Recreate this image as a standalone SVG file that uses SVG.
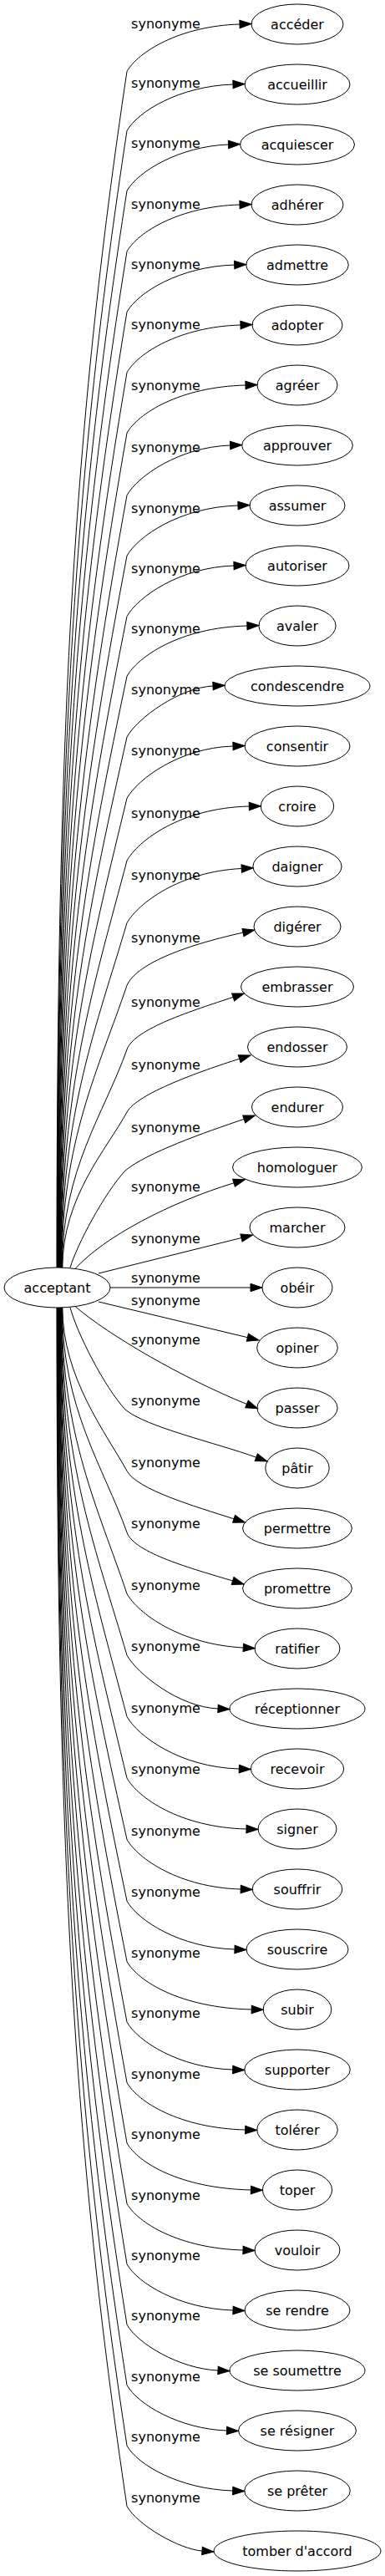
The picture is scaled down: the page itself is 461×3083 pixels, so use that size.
<svg xmlns="http://www.w3.org/2000/svg" width="461" height="3083" viewBox="0 0 461 3083">
<style>
text{font-family:"DejaVu Sans",sans-serif;font-size:16px;fill:#000;text-anchor:middle}
ellipse{fill:none;stroke:#000;stroke-width:1}
#edges path{fill:none;stroke:#000;stroke-width:1;marker-end:url(#ah)}
</style>
<defs>
<marker id="ah" markerUnits="userSpaceOnUse" orient="auto" refX="0" refY="4.7" markerWidth="15" markerHeight="11" viewBox="0 0 15 9.4" overflow="visible">
<path d="M0,0 L14,4.7 L0,9.4 z" fill="#000" stroke="#000" stroke-width="1"/>
</marker>
</defs>
<rect width="461" height="3083" fill="#fff"/>
<g id="edges">
<path d="M68,1517 C68,872.8 87.6,515 152,85.5 C165,62.5 215,31 287,29"/>
<path d="M68.4,1517 C68.4,904.8 89.6,564.7 152,156.5 C165,133.5 215,103 279,101"/>
<path d="M68.8,1517 C68.8,937.1 91.6,614.9 152,228.3 C165,205.3 215,175 273.5,173"/>
<path d="M69.2,1517 C69.2,969.8 93.5,665.7 152,300.9 C165,277.9 215,247 287,245"/>
<path d="M69.6,1517 C69.6,1002.3 95.5,716.4 152,373.3 C165,350.3 215,319 280.7,317"/>
<path d="M70,1517 C70,1035 97.5,767.2 152,445.8 C165,422.8 215,391 288,389"/>
<path d="M70.4,1517 C70.4,1067.5 99.5,817.8 152,518.2 C165,495.2 215,463 294,461"/>
<path d="M70.8,1517 C70.8,1101.1 101.5,870 152,592.7 C165,569.7 215,535 275.6,533"/>
<path d="M71.2,1517 C71.2,1133.6 103.5,920.7 152,665.1 C165,642.1 215,607 285,605"/>
<path d="M71.6,1517 C71.6,1166.3 105.5,971.4 152,737.6 C165,714.6 215,679 280,677"/>
<path d="M72,1517 C72,1198.5 107.5,1021.6 152,809.3 C165,786.3 215,751 295.9,749"/>
<path d="M72.4,1517 C72.4,1231.3 109.5,1072.5 152,882 C165,859 215,823 255,821"/>
<path d="M72.8,1517 C72.8,1264.2 111.5,1123.8 152,955.3 C165,932.3 215,895 279,893"/>
<path d="M73.2,1517 C73.2,1297.9 113.5,1176.1 152,1030 C165,1007 215,967 298.3,965"/>
<path d="M73.6,1517 C73.6,1331.4 115.6,1228.3 152,1104.6 C165,1081.6 215,1043 289.2,1039.5"/>
<path d="M74,1517 C74,1365 117.6,1280.6 152,1179.3 C163,1155 215,1133 291,1116.1"/>
<path d="M74.4,1517 C74.4,1399.5 124.3,1334 152,1256 C161,1231 231.7,1209.2 279.1,1193.4"/>
<path d="M74.8,1517 C74.8,1433 128,1375 152,1331 C164,1309 239,1282.3 286.7,1267.2"/>
<path d="M84,1517.2 C92,1490 125,1428 150,1401 C175,1380 244.7,1355.3 292.2,1339.4"/>
<path d="M90,1518.5 C125,1480 203.5,1439.2 280,1415.8"/>
<path d="M118,1524 L289,1481.5"/>
<path d="M132,1541 L300,1541"/>
<path d="M118,1558 L296.4,1600.7"/>
<path d="M90,1563.5 C130,1598 220,1650 295.5,1680.5"/>
<path d="M84,1564.8 C92,1595 125,1660 150,1687 C175,1708 259.8,1727.1 306.8,1744.2"/>
<path d="M74.8,1565 C74.8,1649 128,1716.5 152,1760.5 C164,1782.5 232.4,1802.7 280.1,1817.8"/>
<path d="M74.4,1565 C74.4,1686 124.3,1756 152,1834.1 C160.7,1858.6 230.7,1877.6 278.6,1892"/>
<path d="M74,1565 C74,1719.1 117.5,1804.7 152,1907.5 C165,1930.5 215,1968 291.3,1972"/>
<path d="M73.6,1565 C73.6,1752.2 115.5,1856.3 152,1981.1 C165,2004.1 215,2043 261,2045"/>
<path d="M73.2,1565 C73.2,1785.3 113.4,1907.6 152,2054.5 C165,2077.5 215,2115 286.3,2117"/>
<path d="M72.8,1565 C72.8,1818.4 111.4,1959.2 152,2128.1 C165,2151.1 215,2187 295,2189"/>
<path d="M72.4,1565 C72.4,1851.4 109.4,2010.5 152,2201.5 C165,2224.5 215,2259 288.2,2261"/>
<path d="M72,1565 C72,1884.6 107.4,2062.1 152,2275.2 C165,2298.2 215,2331 281,2333"/>
<path d="M71.6,1565 C71.6,1917.2 105.4,2112.8 152,2347.6 C165,2370.6 215,2403 301.2,2405"/>
<path d="M71.2,1565 C71.2,1949.8 103.4,2163.6 152,2420.1 C165,2443.1 215,2475 278.7,2477"/>
<path d="M70.8,1565 C70.8,1982.4 101.4,2214.2 152,2492.5 C165,2515.5 215,2547 293.7,2549"/>
<path d="M70.4,1565 C70.4,2015 99.5,2264.9 152,2564.9 C165,2587.9 215,2619 300.4,2621"/>
<path d="M70,1565 C70,2047.6 97.5,2315.7 152,2637.4 C165,2660.4 215,2691 291,2693"/>
<path d="M69.6,1565 C69.6,2080.2 95.5,2366.4 152,2709.8 C165,2732.8 215,2763 279,2765"/>
<path d="M69.2,1565 C69.2,2112.7 93.5,2417 152,2782.2 C165,2805.2 215,2835 261,2837"/>
<path d="M68.8,1565 C68.8,2145.3 91.5,2467.7 152,2854.6 C165,2877.6 215,2907 271.5,2909"/>
<path d="M68.4,1565 C68.4,2177.9 89.5,2518.5 152,2927.1 C165,2950.1 215,2979 278.7,2981"/>
<path d="M68,1565 C68,2210.5 87.6,2569.1 152,2999.5 C165,3022.5 215,3051 242,3053"/>
</g>
<g id="labels">
<text x="198.5" y="34.1">synonyme</text>
<text x="198.5" y="105.1">synonyme</text>
<text x="198.5" y="176.9">synonyme</text>
<text x="198.5" y="249.5">synonyme</text>
<text x="198.5" y="321.9">synonyme</text>
<text x="198.5" y="394.4">synonyme</text>
<text x="198.5" y="466.8">synonyme</text>
<text x="198.5" y="541.3">synonyme</text>
<text x="198.5" y="613.7">synonyme</text>
<text x="198.5" y="686.2">synonyme</text>
<text x="198.5" y="757.9">synonyme</text>
<text x="198.5" y="830.6">synonyme</text>
<text x="198.5" y="903.9">synonyme</text>
<text x="198.5" y="978.6">synonyme</text>
<text x="198.5" y="1053.2">synonyme</text>
<text x="198.5" y="1127.9">synonyme</text>
<text x="198.5" y="1204.6">synonyme</text>
<text x="198.5" y="1279.6">synonyme</text>
<text x="198.5" y="1354.6">synonyme</text>
<text x="198.5" y="1426.3">synonyme</text>
<text x="198.5" y="1487.6">synonyme</text>
<text x="198.5" y="1534.6">synonyme</text>
<text x="198.5" y="1562.3">synonyme</text>
<text x="198.5" y="1608.6">synonyme</text>
<text x="198.5" y="1682.1">synonyme</text>
<text x="198.5" y="1755.6">synonyme</text>
<text x="198.5" y="1829.2">synonyme</text>
<text x="198.5" y="1902.6">synonyme</text>
<text x="198.5" y="1976.2">synonyme</text>
<text x="198.5" y="2049.6">synonyme</text>
<text x="198.5" y="2123.2">synonyme</text>
<text x="198.5" y="2196.6">synonyme</text>
<text x="198.5" y="2270.3">synonyme</text>
<text x="198.5" y="2342.7">synonyme</text>
<text x="198.5" y="2415.2">synonyme</text>
<text x="198.5" y="2487.6">synonyme</text>
<text x="198.5" y="2560">synonyme</text>
<text x="198.5" y="2632.5">synonyme</text>
<text x="198.5" y="2704.9">synonyme</text>
<text x="198.5" y="2777.3">synonyme</text>
<text x="198.5" y="2849.7">synonyme</text>
<text x="198.5" y="2922.2">synonyme</text>
<text x="198.5" y="2994.6">synonyme</text>
</g>
<g id="acceptant"><ellipse cx="68.5" cy="1541" rx="63.5" ry="24"/><text x="68.5" y="1546.5">acceptant</text></g>
<g id="n0"><ellipse cx="356" cy="29" rx="55" ry="24"/><text x="356" y="34.5">accéder</text></g>
<g id="n1"><ellipse cx="356" cy="101" rx="63" ry="24"/><text x="356" y="106.5">accueillir</text></g>
<g id="n2"><ellipse cx="356" cy="173" rx="68.5" ry="24"/><text x="356" y="178.5">acquiescer</text></g>
<g id="n3"><ellipse cx="356" cy="245" rx="55" ry="24"/><text x="356" y="250.5">adhérer</text></g>
<g id="n4"><ellipse cx="356" cy="317" rx="61.3" ry="24"/><text x="356" y="322.5">admettre</text></g>
<g id="n5"><ellipse cx="356" cy="389" rx="54" ry="24"/><text x="356" y="394.5">adopter</text></g>
<g id="n6"><ellipse cx="356" cy="461" rx="48" ry="24"/><text x="356" y="466.5">agréer</text></g>
<g id="n7"><ellipse cx="356" cy="533" rx="66.4" ry="24"/><text x="356" y="538.5">approuver</text></g>
<g id="n8"><ellipse cx="356" cy="605" rx="57" ry="24"/><text x="356" y="610.5">assumer</text></g>
<g id="n9"><ellipse cx="356" cy="677" rx="62" ry="24"/><text x="356" y="682.5">autoriser</text></g>
<g id="n10"><ellipse cx="356" cy="749" rx="46.1" ry="24"/><text x="356" y="754.5">avaler</text></g>
<g id="n11"><ellipse cx="356" cy="821" rx="87" ry="24"/><text x="356" y="826.5">condescendre</text></g>
<g id="n12"><ellipse cx="356" cy="893" rx="63" ry="24"/><text x="356" y="898.5">consentir</text></g>
<g id="n13"><ellipse cx="356" cy="965" rx="43.7" ry="24"/><text x="356" y="970.5">croire</text></g>
<g id="n14"><ellipse cx="356" cy="1037" rx="53.1" ry="24"/><text x="356" y="1042.5">daigner</text></g>
<g id="n15"><ellipse cx="356" cy="1109" rx="52" ry="24"/><text x="356" y="1114.5">digérer</text></g>
<g id="n16"><ellipse cx="356" cy="1181" rx="67.5" ry="24"/><text x="356" y="1186.5">embrasser</text></g>
<g id="n17"><ellipse cx="356" cy="1253" rx="59.5" ry="24"/><text x="356" y="1258.5">endosser</text></g>
<g id="n18"><ellipse cx="356" cy="1325" rx="54.5" ry="24"/><text x="356" y="1330.5">endurer</text></g>
<g id="n19"><ellipse cx="356" cy="1397" rx="77.5" ry="24"/><text x="356" y="1402.5">homologuer</text></g>
<g id="n20"><ellipse cx="356" cy="1469" rx="57" ry="24"/><text x="356" y="1474.5">marcher</text></g>
<g id="n21"><ellipse cx="356" cy="1541" rx="42" ry="24"/><text x="356" y="1546.5">obéir</text></g>
<g id="n22"><ellipse cx="356" cy="1613" rx="48.3" ry="24"/><text x="356" y="1618.5">opiner</text></g>
<g id="n23"><ellipse cx="356" cy="1685" rx="48.1" ry="24"/><text x="356" y="1690.5">passer</text></g>
<g id="n24"><ellipse cx="356" cy="1757" rx="38.2" ry="24"/><text x="356" y="1762.5">pâtir</text></g>
<g id="n25"><ellipse cx="356" cy="1829" rx="65.4" ry="24"/><text x="356" y="1834.5">permettre</text></g>
<g id="n26"><ellipse cx="356" cy="1901" rx="65.4" ry="24"/><text x="356" y="1906.5">promettre</text></g>
<g id="n27"><ellipse cx="356" cy="1973" rx="51" ry="24"/><text x="356" y="1978.5">ratifier</text></g>
<g id="n28"><ellipse cx="356" cy="2045" rx="81" ry="24"/><text x="356" y="2050.5">réceptionner</text></g>
<g id="n29"><ellipse cx="356" cy="2117" rx="55.7" ry="24"/><text x="356" y="2122.5">recevoir</text></g>
<g id="n30"><ellipse cx="356" cy="2189" rx="47" ry="24"/><text x="356" y="2194.5">signer</text></g>
<g id="n31"><ellipse cx="356" cy="2261" rx="53.8" ry="24"/><text x="356" y="2266.5">souffrir</text></g>
<g id="n32"><ellipse cx="356" cy="2333" rx="61" ry="24"/><text x="356" y="2338.5">souscrire</text></g>
<g id="n33"><ellipse cx="356" cy="2405" rx="40.8" ry="24"/><text x="356" y="2410.5">subir</text></g>
<g id="n34"><ellipse cx="356" cy="2477" rx="63.3" ry="24"/><text x="356" y="2482.5">supporter</text></g>
<g id="n35"><ellipse cx="356" cy="2549" rx="48.3" ry="24"/><text x="356" y="2554.5">tolérer</text></g>
<g id="n36"><ellipse cx="356" cy="2621" rx="41.6" ry="24"/><text x="356" y="2626.5">toper</text></g>
<g id="n37"><ellipse cx="356" cy="2693" rx="51" ry="24"/><text x="356" y="2698.5">vouloir</text></g>
<g id="n38"><ellipse cx="356" cy="2765" rx="63" ry="24"/><text x="356" y="2770.5">se rendre</text></g>
<g id="n39"><ellipse cx="356" cy="2837" rx="81" ry="24"/><text x="356" y="2842.5">se soumettre</text></g>
<g id="n40"><ellipse cx="356" cy="2909" rx="70.5" ry="24"/><text x="356" y="2914.5">se résigner</text></g>
<g id="n41"><ellipse cx="356" cy="2981" rx="63.3" ry="24"/><text x="356" y="2986.5">se prêter</text></g>
<g id="n42"><ellipse cx="356" cy="3053" rx="100" ry="24"/><text x="356" y="3058.5">tomber d'accord</text></g>
</svg>
